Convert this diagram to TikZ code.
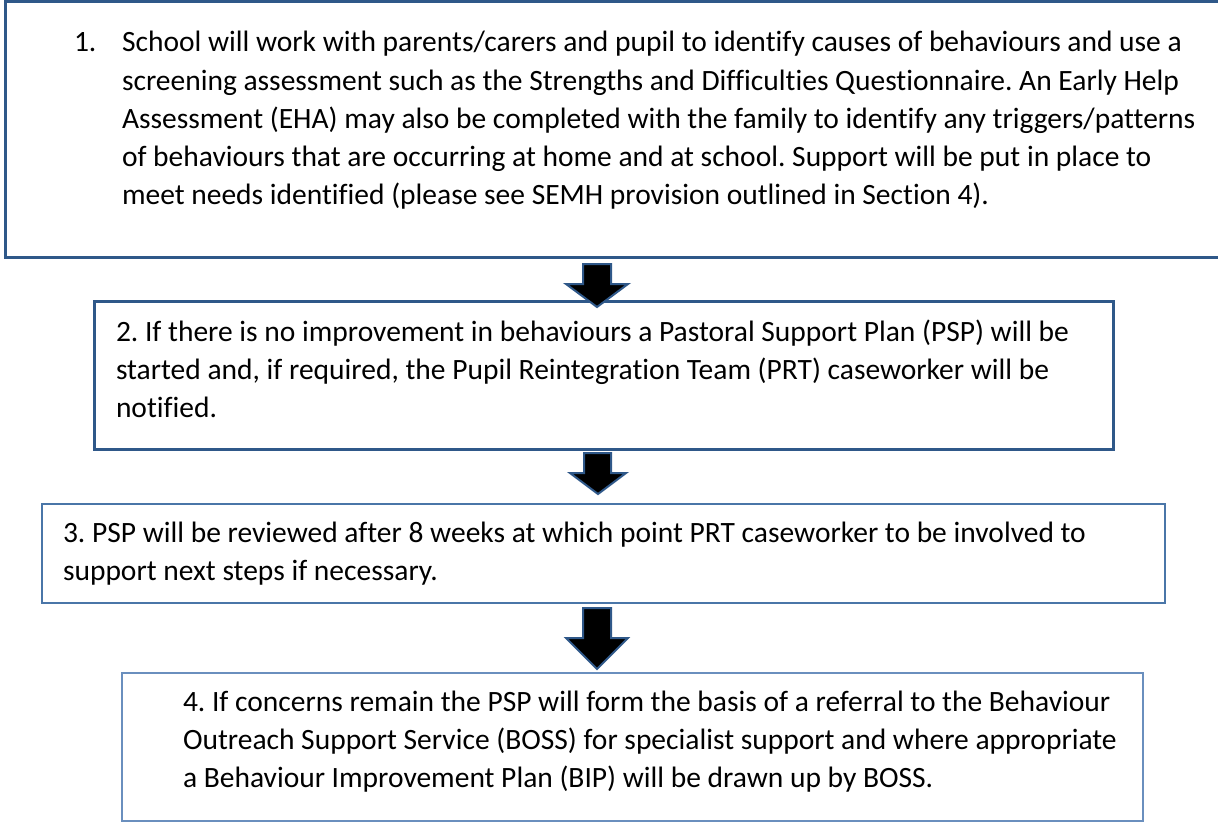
\documentclass[tikz,border=0pt]{standalone}
\usepackage{fontspec}
\setmainfont[Ligatures={NoCommon}]{Carlito}
\definecolor{boxdark}{HTML}{2F5889}
\definecolor{boxmid}{HTML}{4A76A8}
\definecolor{boxlight}{HTML}{6A8FBE}
\frenchspacing
\begin{document}
\begin{tikzpicture}[x=1pt,y=-1pt,
  box/.style={draw=boxdark, line width=3pt, inner sep=0pt, outer sep=0pt, anchor=north west},
  txt/.style={anchor=north west, inner sep=0pt, outer sep=0pt, align=left, font=\fontsize{29.5}{38.3}\selectfont\frenchspacing},
  arr/.style={fill=black, draw=boxdark, line width=2pt, line join=miter}]
\useasboundingbox (0,0) rectangle (1218,823);
% boxes
\node[box, minimum width=1240pt, minimum height=256pt] (b1) at (5,1) {};
\node[box, minimum width=1019pt, minimum height=148pt] (b2) at (94,301) {};
\node[box, draw=boxmid, line width=2.8pt, minimum width=1123pt, minimum height=99pt] (b3) at (42,504) {};
\node[box, draw=boxlight, line width=2.5pt, minimum width=1021pt, minimum height=148pt] (b4) at (122,673) {};
% texts
\node[txt] (n1) at (74,24.9) {\strut 1.};
\node[txt] (t1) at (122,24.9) {\strut School will work with parents/carers and pupil to identify causes of behaviours and use a\\
screening assessment such as the Strengths and Difficulties Questionnaire. An Early Help\\
Assessment (EHA) may also be completed with the family to identify any triggers/patterns\\
of behaviours that are occurring at home and at school. Support will be put in place to\\
meet needs identified (please see SEMH provision outlined in Section 4).};
\node[txt] (t2) at (116,314.2) {\strut 2. If there is no improvement in behaviours a Pastoral Support Plan (PSP) will be\\
started and, if required, the Pupil Reintegration Team (PRT) caseworker will be\\
notified.};
\node[txt] (t3) at (63,515.2) {\strut 3. PSP will be reviewed after 8 weeks at which point PRT caseworker to be involved to\\
support next steps if necessary.};
\node[txt] (t4) at (183,684.2) {\strut 4. If concerns remain the PSP will form the basis of a referral to the Behaviour\\
Outreach Support Service (BOSS) for specialist support and where appropriate\\
a Behaviour Improvement Plan (BIP) will be drawn up by BOSS.};
% arrows
\coordinate (a1) at (597,264);
\coordinate (a2) at (598,453);
\coordinate (a3) at (597,608);
\draw[arr] ([xshift=-14pt]a1) -- ([xshift=14pt]a1) -- ([xshift=14pt,yshift=-20pt]a1) -- ([xshift=31pt,yshift=-20pt]a1)
  -- ([yshift=-43pt]a1) -- ([xshift=-31pt,yshift=-20pt]a1) -- ([xshift=-14pt,yshift=-20pt]a1) -- cycle;
\draw[arr] ([xshift=-14pt]a2) -- ([xshift=13pt]a2) -- ([xshift=13pt,yshift=-20pt]a2) -- ([xshift=28pt,yshift=-20pt]a2)
  -- ([yshift=-41pt]a2) -- ([xshift=-28pt,yshift=-20pt]a2) -- ([xshift=-14pt,yshift=-20pt]a2) -- cycle;
\draw[arr] ([xshift=-14pt]a3) -- ([xshift=14pt]a3) -- ([xshift=14pt,yshift=-30pt]a3) -- ([xshift=31pt,yshift=-30pt]a3)
  -- ([yshift=-61pt]a3) -- ([xshift=-31pt,yshift=-30pt]a3) -- ([xshift=-14pt,yshift=-30pt]a3) -- cycle;
\end{tikzpicture}
\end{document}
